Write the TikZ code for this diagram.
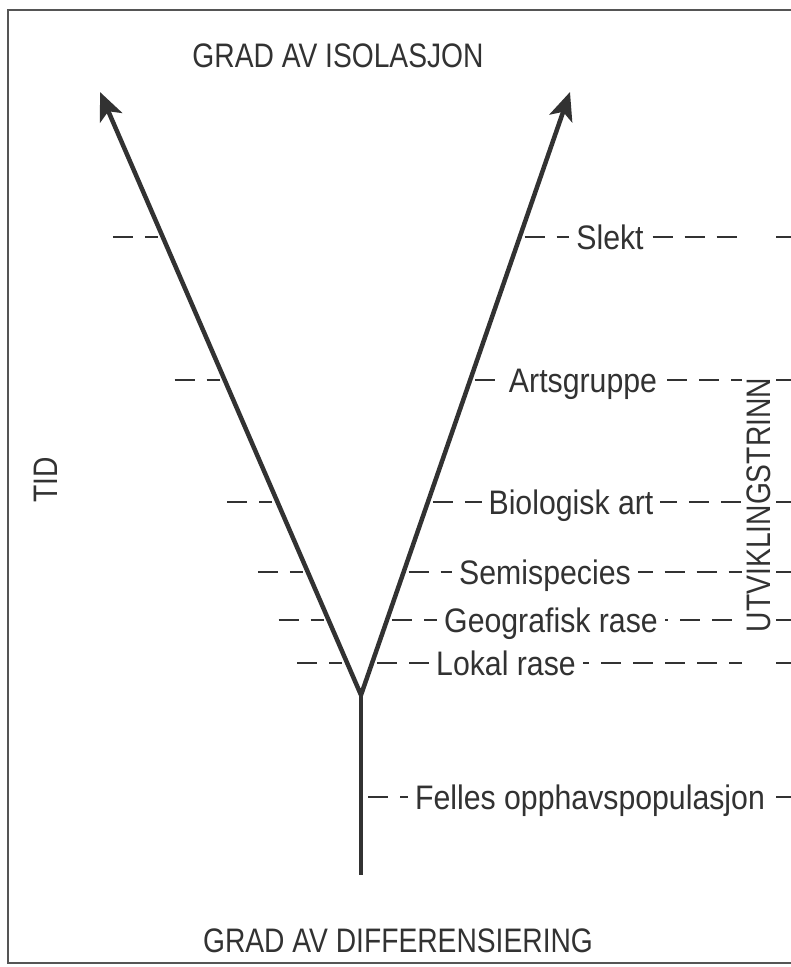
\documentclass[tikz,border=0pt]{standalone}
\usepackage{fontspec}
\setmainfont{Liberation Sans}[FakeStretch=0.89]
\newfontfamily\capsfont{Liberation Sans}[FakeStretch=0.83]
\usepackage{tikz}
\usetikzlibrary{arrows.meta, calc}
\definecolor{inkgray}{RGB}{50,50,50}
\definecolor{framegray}{RGB}{85,85,85}

\begin{document}
\begin{tikzpicture}[
    x=1pt, y=-1pt,
    lab/.style={font=\fontsize{34}{40}\selectfont, text=inkgray, inner sep=0pt, anchor=base},
    head/.style={lab, font=\fontsize{34}{40}\capsfont},
    stage/.style={lab, fill=white, inner xsep=7pt, inner ysep=2pt},
    arr/.style={line width=4.5pt, color=inkgray, line join=round,
                {Stealth[length=28pt, width=24pt, inset=7pt]}-{Stealth[length=28pt, width=24pt, inset=7pt]}},
    stemline/.style={line width=4.5pt, color=inkgray},
    dashline/.style={line width=2pt, color=inkgray, dash pattern=on 20pt off 12pt},
    frame/.style={line width=2pt, color=framegray},
]
\useasboundingbox (0,0) rectangle (791,967);
\draw[frame] (791,10) -- (8,10) -- (8,963) -- (791,963);

\coordinate (apex) at (361,695);
\coordinate (ltip) at (100,92);
\coordinate (rtip) at (570,92);
\coordinate (root) at (361,875);
\coordinate (felles) at (363,797);
\coordinate (gapL) at (742,0);
\coordinate (gapR) at (776,0);
\coordinate (edge) at (791,0);

\path (apex) -- (ltip) coordinate[pos=0.7595] (l1) coordinate[pos=0.5224] (l2)
      coordinate[pos=0.3201] (l3) coordinate[pos=0.204] (l4)
      coordinate[pos=0.1244] (l5) coordinate[pos=0.0531] (l6);
\path (apex) -- (rtip) coordinate[pos=0.7595] (r1) coordinate[pos=0.5224] (r2)
      coordinate[pos=0.3201] (r3) coordinate[pos=0.204] (r4)
      coordinate[pos=0.1244] (r5) coordinate[pos=0.0531] (r6);

\draw[dashline] ([xshift=-50pt]l1) -- ([xshift=-5pt]l1);
\draw[dashline] ([xshift=-50pt]l2) -- ([xshift=-5pt]l2);
\draw[dashline] ([xshift=-50pt]l3) -- ([xshift=-5pt]l3);
\draw[dashline] ([xshift=-50pt]l4) -- ([xshift=-5pt]l4);
\draw[dashline] ([xshift=-50pt]l5) -- ([xshift=-5pt]l5);
\draw[dashline] ([xshift=-50pt]l6) -- ([xshift=-5pt]l6);

\draw[dashline] ([xshift=5pt]r1) -- (r1 -| gapL);
\draw[dashline] ([xshift=5pt]r2) -- (r2 -| gapL);
\draw[dashline] ([xshift=5pt]r3) -- (r3 -| gapL);
\draw[dashline] ([xshift=5pt]r4) -- (r4 -| gapL);
\draw[dashline] ([xshift=5pt]r5) -- (r5 -| gapL);
\draw[dashline] ([xshift=5pt]r6) -- (r6 -| gapL);
\draw[dashline] ([xshift=5pt]felles) -- (felles -| gapL);
\draw[dashline] (r1 -| gapR) -- (r1 -| edge);
\draw[dashline] (r2 -| gapR) -- (r2 -| edge);
\draw[dashline] (r3 -| gapR) -- (r3 -| edge);
\draw[dashline] (r4 -| gapR) -- (r4 -| edge);
\draw[dashline] (r5 -| gapR) -- (r5 -| edge);
\draw[dashline] (r6 -| gapR) -- (r6 -| edge);
\draw[dashline] (felles -| gapR) -- (felles -| edge);

\draw[arr] (ltip) -- (apex) -- (rtip);
\draw[stemline] (apex) -- (root);

\node[stage] (slekt) at (610,249) {Slekt};
\node[stage] (artsgr) at (583,392) {Artsgruppe};
\node[stage] (bioart) at (571,514) {Biologisk art};
\node[stage] (semisp) at (545,584) {Semispecies};
\node[stage] (georase) at (551,632) {Geografisk rase};
\node[stage] (lokrase) at (506,675) {Lokal rase};
\node[stage] (opphav) at (590,809) {Felles opphavspopulasjon};

\node[head] (isolasjon) at (338,67) {GRAD AV ISOLASJON};
\node[head] (differens) at (398,952) {GRAD AV DIFFERENSIERING};
\node[head, rotate=90] (tid) at (57,480) {TID};
\node[head, rotate=90] (utvikling) at (770,505) {UTVIKLINGSTRINN};
\end{tikzpicture}
\end{document}
